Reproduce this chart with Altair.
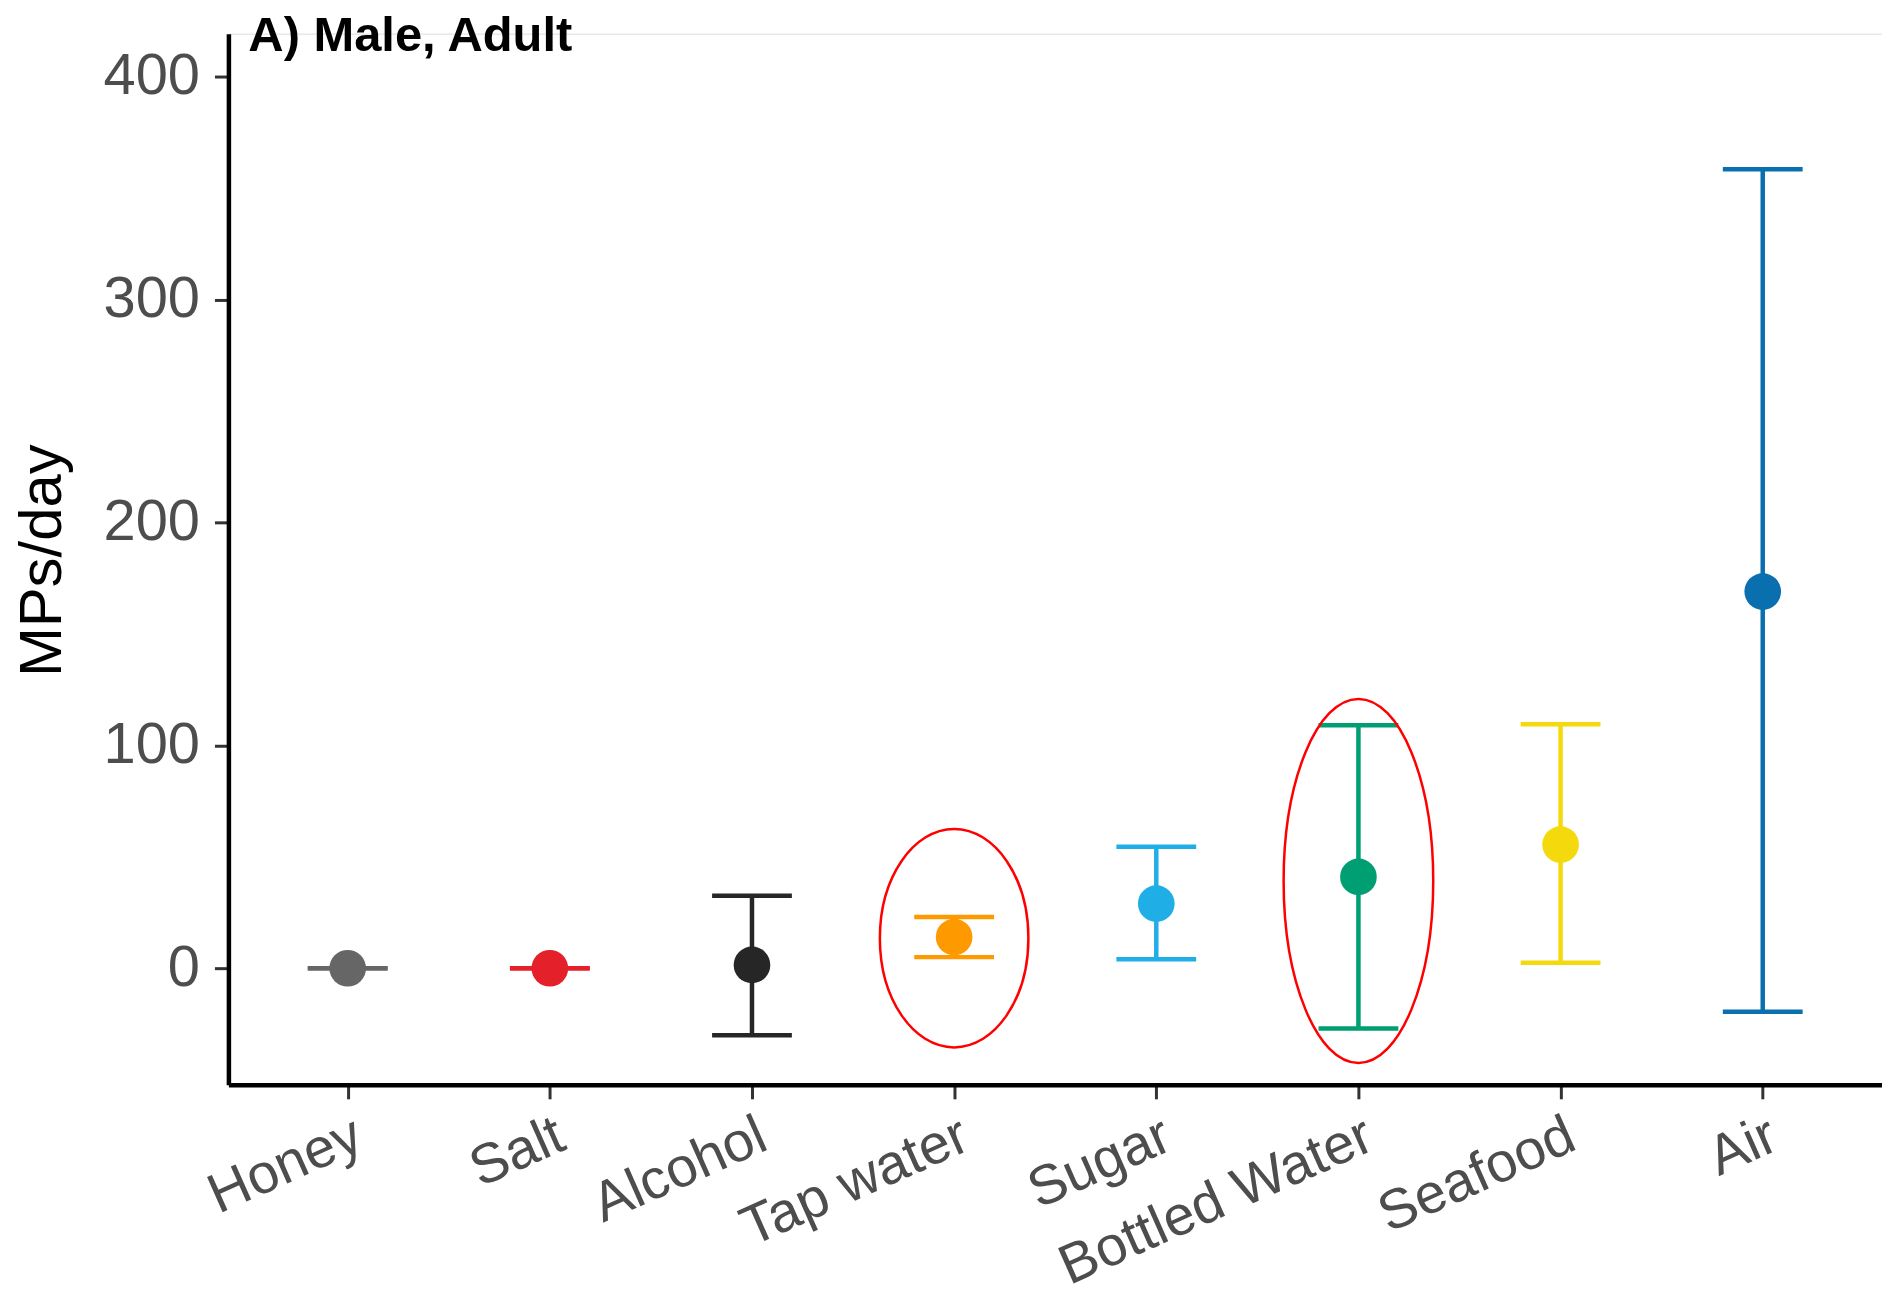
import altair as alt
import pandas as pd

# ---- data ----
categories = ["Honey", "Salt", "Alcohol", "Tap water", "Sugar",
              "Bottled Water", "Seafood", "Air"]
mean_values = [0.0, 0.0, 1.5, 14.0, 29.0, 41.0, 55.5, 169.0]
lower_values = [0.0, 0.0, -30.0, 5.0, 4.0, -27.0, 2.5, -19.5]
upper_values = [0.0, 0.0, 32.5, 23.0, 54.5, 109.0, 109.5, 358.5]
colors = ["#666666", "#E4202A", "#262626", "#FF9900", "#1FAEE6",
          "#009E73", "#F4DA0C", "#0A6FAF"]
y_ticks = [0, 100, 200, 300, 400]

# highlighted (circled) categories and the centre of each ellipse
highlight_categories = ["Tap water", "Bottled Water"]
highlight_centers = [13.5, 39.2]

df = pd.DataFrame({
    "category": categories,
    "mean": mean_values,
    "lower": lower_values,
    "upper": upper_values,
})
hl = pd.DataFrame({"category": highlight_categories, "center": highlight_centers})

FONT = "Liberation Sans"


def ellipse_path(rx):
    k = 0.5523
    return (f"M0,-1 C{k*rx:.4f},-1 {rx:.4f},{-k:.4f} {rx:.4f},0 "
            f"C{rx:.4f},{k:.4f} {k*rx:.4f},1 0,1 "
            f"C{-k*rx:.4f},1 {-rx:.4f},{k:.4f} {-rx:.4f},0 "
            f"C{-rx:.4f},{-k:.4f} {-k*rx:.4f},-1 0,-1 Z")


x_enc = alt.X(
    "category:N",
    sort=categories,
    scale=alt.Scale(type="point", padding=0.59),
    axis=alt.Axis(
        title=None,
        labelAngle=336,
        labelAlign="right",
        labelBaseline="top",
        labelFont=FONT,
        labelFontSize=56,
        labelColor="#4D4D4D",
        labelPadding=9,
        labelOverlap=False,
        labelLimit=1000,
        tickSize=14,
        tickWidth=3,
        tickColor="#333333",
        domainColor="black",
        domainWidth=4.5,
        grid=False,
    ),
)

y_scale = alt.Scale(domain=[-52.3, 419.3], nice=False, zero=False)
y_axis = alt.Axis(
    title="MPs/day",
    values=y_ticks,
    labelFont=FONT,
    labelFontSize=58,
    labelColor="#4D4D4D",
    labelPadding=15,
    tickSize=14,
    tickWidth=3,
    tickColor="#333333",
    domainColor="black",
    domainWidth=4.5,
    grid=False,
    titleFont=FONT,
    titleFontSize=60,
    titleFontWeight="normal",
    titleColor="black",
    titleAngle=270,
    titleAlign="center",
    titleBaseline="alphabetic",
    titleX=-168,
    titleY=528,
)

color_enc = alt.Color("category:N",
                      scale=alt.Scale(domain=categories, range=colors),
                      legend=None)

base = alt.Chart(df)

rules = base.mark_rule(strokeWidth=4.5, opacity=1).encode(
    x=x_enc,
    y=alt.Y("lower:Q", scale=y_scale, axis=y_axis),
    y2="upper:Q",
    color=color_enc,
)

caps_low = base.mark_tick(size=80, thickness=4.5, opacity=1).encode(
    x=x_enc, y=alt.Y("lower:Q", scale=y_scale), color=color_enc)
caps_high = base.mark_tick(size=80, thickness=4.5, opacity=1).encode(
    x=x_enc, y=alt.Y("upper:Q", scale=y_scale), color=color_enc)

points = base.mark_circle(size=1350, opacity=1).encode(
    x=x_enc, y=alt.Y("mean:Q", scale=y_scale), color=color_enc)

ell_tap = alt.Chart(hl[hl["category"] == "Tap water"]).mark_point(
    shape=ellipse_path(0.680), size=47961, filled=False,
    color="#FF0000", strokeWidth=2.5, opacity=1,
).encode(x=x_enc, y=alt.Y("center:Q", scale=y_scale))

ell_bottled = alt.Chart(hl[hl["category"] == "Bottled Water"]).mark_point(
    shape=ellipse_path(0.411), size=133225, filled=False,
    color="#FF0000", strokeWidth=2.5, opacity=1,
).encode(x=x_enc, y=alt.Y("center:Q", scale=y_scale))

chart = alt.layer(rules, caps_low, caps_high, points, ell_tap, ell_bottled).properties(
    width=1658,
    height=1054,
    autosize=alt.AutoSizeParams(type="none"),
    padding={"left": 221, "top": 24, "right": 0, "bottom": 214},
    title=alt.TitleParams(
        "A) Male, Adult",
        anchor="start",
        frame="group",
        font=FONT,
        fontSize=49,
        fontWeight="bold",
        color="black",
        baseline="alphabetic",
        offset=0,
        dx=20,
        dy=66,
    ),
).configure_view(stroke="transparent", strokeWidth=0).configure(background="white")

chart.save("out.html", embed_options={"renderer": "svg", "actions": False})
